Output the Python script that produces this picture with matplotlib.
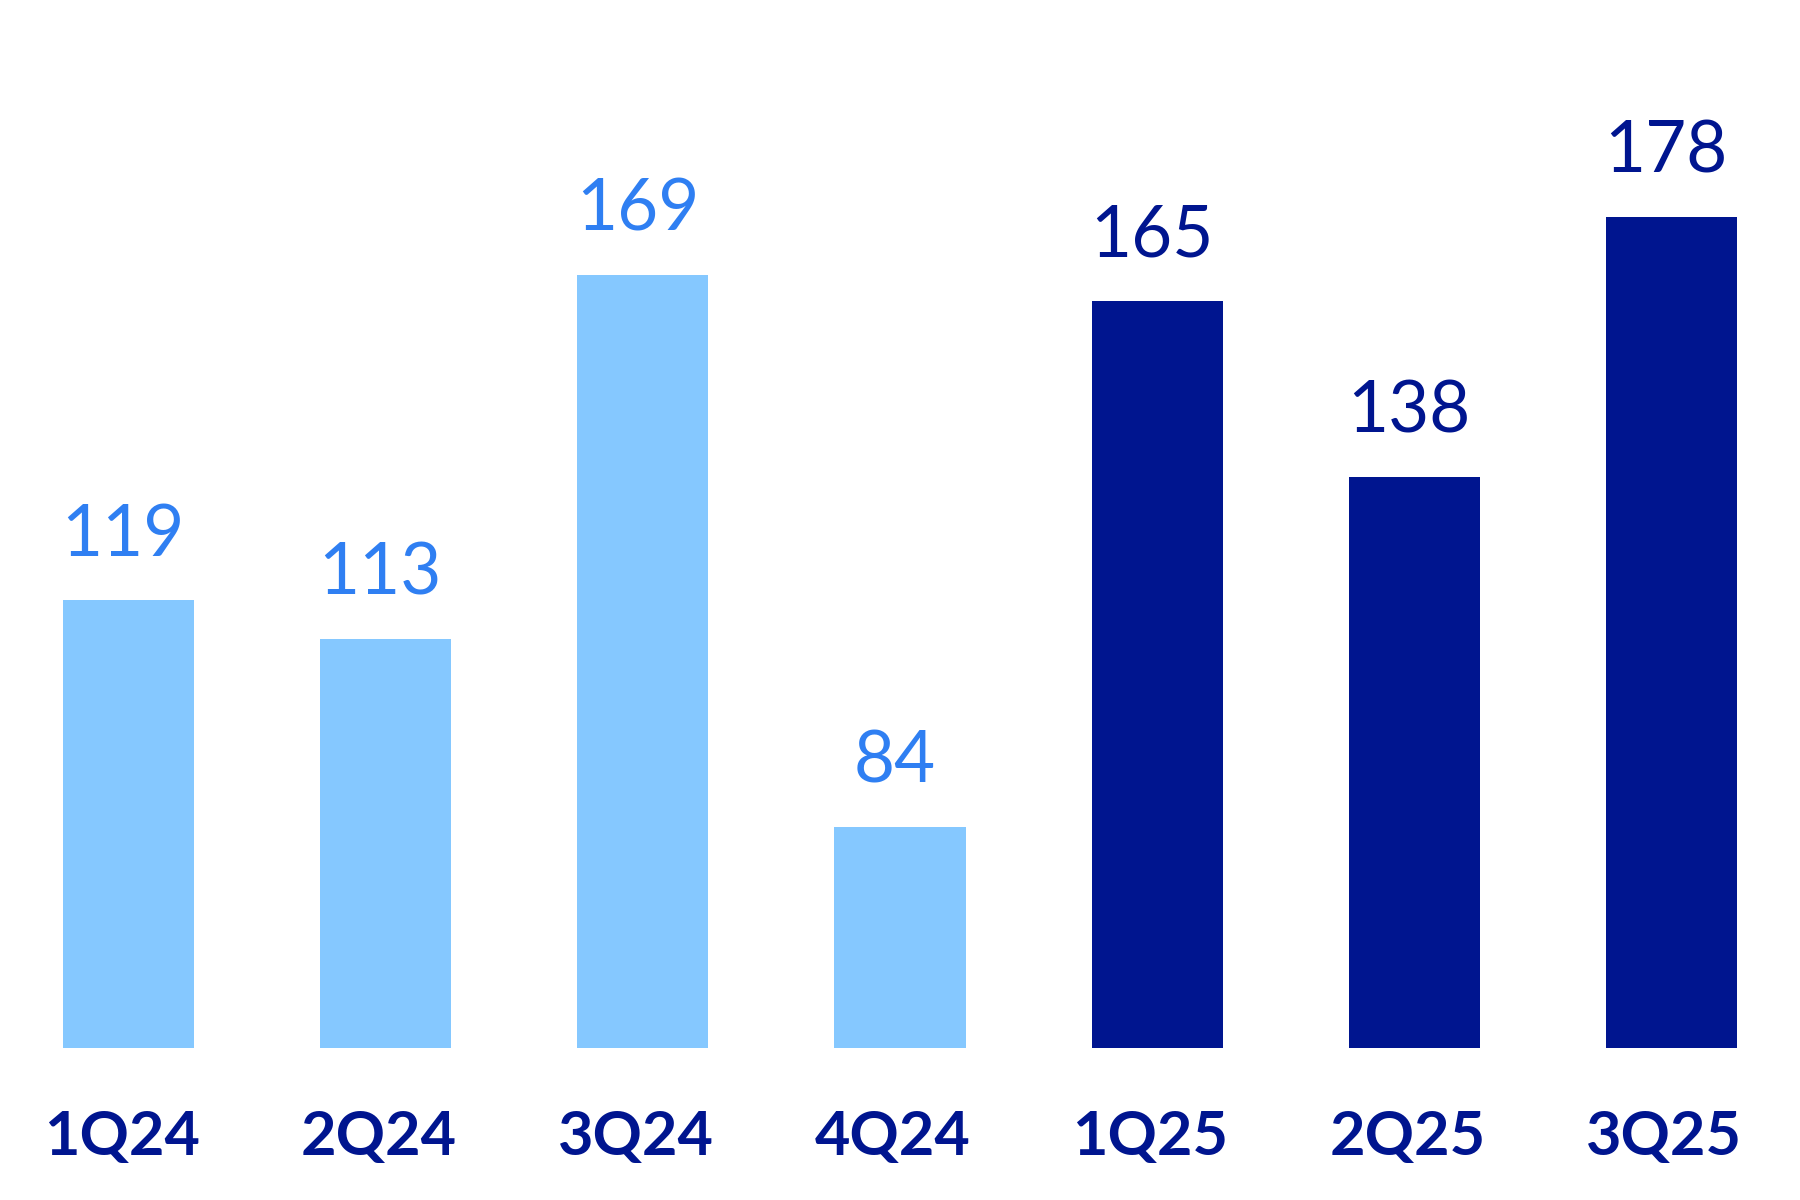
import matplotlib
matplotlib.use("Agg")
import matplotlib.pyplot as plt
from matplotlib.transforms import ScaledTranslation

# Datos
quarters = ["1Q24", "2Q24", "3Q24", "4Q24", "1Q25", "2Q25", "3Q25"]
values = [119, 113, 169, 84, 165, 138, 178]
is_2025 = [False, False, False, False, True, True, True]

light_bar = "#85C8FF"
light_text = "#2F7FF2"
dark = "#00158F"

plt.rcParams["font.family"] = ["Lato", "DejaVu Sans"]

fig = plt.figure(figsize=(18, 12), dpi=100)
ax = fig.add_axes([0, 0.1267, 1, 0.8733])

x = range(len(quarters))
colors = [dark if y else light_bar for y in is_2025]
ax.bar(x, values, width=0.51, color=colors)

for i, v in enumerate(values):
    ax.annotate(str(v), (i, v), xytext=(-4, 32), textcoords="offset points",
                ha="center", va="baseline", fontsize=51,
                color=dark if is_2025[i] else light_text)

ax.set_xlim(-0.5, 6.5)
ax.set_ylim(50, 211.4)
ax.set_xticks(list(x))
ax.set_xticklabels(quarters, fontsize=44, fontweight="bold", color=dark)
ax.tick_params(axis="x", length=0, pad=44)
shift = ScaledTranslation(-7 / 100, 0, fig.dpi_scale_trans)
for lab in ax.get_xticklabels():
    lab.set_transform(lab.get_transform() + shift)
ax.set_yticks([])
for s in ax.spines.values():
    s.set_visible(False)

fig.savefig("out.png", dpi=100)
